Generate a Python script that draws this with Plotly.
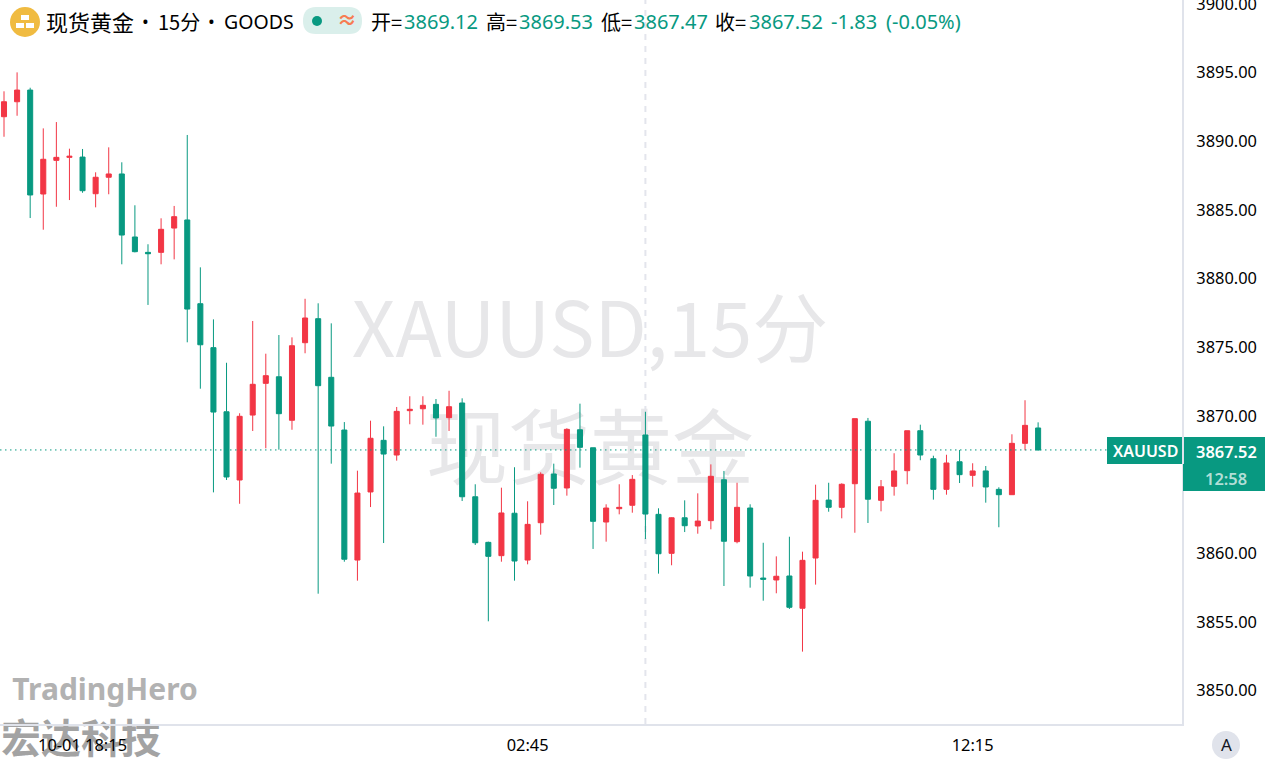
import plotly.graph_objects as go

opens = [3891.79,3892.88,3893.73,3886.16,3888.61,3888.83,3888.85,3886.18,3887.38,3887.62,
         3883.03,3881.91,3881.91,3883.68,3884.27,3878.17,3874.97,3870.30,3865.33,3870.06,
         3872.37,3872.85,3869.68,3875.33,3877.08,3872.81,3868.97,3859.50,3864.46,3868.22,
         3867.15,3870.38,3870.52,3870.84,3869.87,3870.94,3864.11,3860.79,3859.82,3862.91,
         3859.50,3862.22,3865.77,3864.75,3868.99,3867.68,3862.27,3863.24,3863.49,3868.61,
         3862.83,3859.99,3862.58,3861.98,3862.37,3865.35,3860.84,3863.29,3858.19,3858.05,
         3858.34,3855.99,3859.65,3863.87,3863.34,3865.06,3869.61,3863.85,3864.87,3866.01,
         3868.92,3866.88,3864.65,3866.66,3865.67,3865.99,3864.65,3864.26,3868.00,3869.12]
highs = [3893.64,3895.02,3893.90,3890.94,3891.40,3889.46,3889.44,3887.74,3889.56,3888.47,
         3885.34,3882.50,3884.39,3885.29,3890.46,3880.82,3877.03,3873.87,3870.19,3876.91,
         3874.53,3875.89,3875.72,3878.53,3878.20,3876.74,3869.55,3866.01,3869.65,3869.24,
         3870.65,3871.43,3871.43,3871.23,3871.83,3871.28,3865.02,3860.84,3864.77,3866.26,
         3863.78,3865.89,3866.52,3869.10,3870.89,3867.68,3863.56,3865.02,3865.69,3870.30,
         3863.27,3862.61,3863.85,3864.36,3866.47,3865.99,3865.13,3863.56,3860.76,3859.77,
         3861.20,3860.11,3864.99,3865.13,3865.09,3869.80,3869.85,3865.33,3867.28,3868.92,
         3869.36,3867.10,3867.17,3867.52,3866.55,3866.35,3864.80,3868.66,3871.14,3869.53]
lows = [3890.33,3891.86,3884.41,3883.56,3885.23,3885.72,3886.25,3885.19,3886.14,3881.04,
        3881.91,3878.08,3881.04,3881.40,3875.36,3871.98,3864.43,3865.33,3863.60,3868.90,
        3867.64,3867.54,3868.99,3874.56,3857.05,3866.52,3859.38,3858.00,3863.36,3860.74,
        3866.74,3869.39,3869.36,3868.48,3868.90,3863.80,3860.60,3855.04,3859.38,3858.00,
        3859.19,3861.35,3863.51,3864.19,3866.23,3860.31,3860.84,3862.83,3862.95,3861.03,
        3858.51,3859.12,3861.54,3861.42,3861.74,3857.61,3860.72,3857.49,3856.54,3857.08,
        3855.94,3852.83,3857.71,3863.02,3862.54,3861.49,3862.20,3863.05,3864.19,3865.02,
        3866.77,3863.90,3864.26,3865.11,3864.84,3863.68,3861.89,3864.26,3867.49,3867.47]
closes = [3892.88,3893.73,3886.09,3888.69,3888.83,3888.91,3886.40,3887.38,3887.62,3883.17,
          3881.96,3881.81,3883.59,3884.51,3877.78,3875.18,3870.28,3865.55,3869.97,3872.30,
          3872.93,3870.16,3875.11,3877.13,3872.20,3869.26,3859.56,3864.38,3868.37,3867.22,
          3870.33,3870.48,3870.77,3869.85,3870.67,3864.11,3860.76,3859.77,3862.93,3859.43,
          3862.10,3865.75,3864.73,3869.02,3867.71,3862.32,3863.29,3863.34,3865.38,3862.85,
          3859.96,3862.58,3862.00,3862.34,3865.60,3860.87,3863.34,3858.34,3858.10,3858.32,
          3856.06,3859.48,3863.85,3863.34,3865.02,3869.80,3863.93,3864.84,3865.99,3868.92,
          3867.15,3864.65,3866.57,3865.72,3865.99,3864.82,3864.26,3868.00,3869.31,3867.52]

price_ticks = [3850, 3855, 3860, 3865, 3870, 3875, 3880, 3885, 3890, 3895, 3900]
time_tick_index = [6, 40, 74]
time_tick_text = ["10-01 18:15", "02:45", "12:15"]
cursor_index = 49

UP = "#F23645"
DOWN = "#089981"
AXIS = "#E0E3EB"
W, H = 1265, 761
PW, PH = 1182, 724
LAT = "Noto Sans, Noto Sans CJK SC, sans-serif"
CJK = "Noto Sans CJK SC, Noto Sans, sans-serif"


def px(x):
    return x / PW


def py(y):
    return 1 - y / PH


fig = go.Figure(go.Candlestick(
    x=list(range(len(opens))), open=opens, high=highs, low=lows, close=closes,
    increasing=dict(line=dict(color=UP, width=1), fillcolor=UP),
    decreasing=dict(line=dict(color=DOWN, width=1), fillcolor=DOWN),
    whiskerwidth=0, hoverinfo="skip", showlegend=False,
))

shapes = []
annots = []


def rect(x0, y0, x1, y1, color, kind="rect", layer="above"):
    shapes.append(dict(type=kind, xref="paper", yref="paper", x0=px(x0), x1=px(x1), y0=py(y1), y1=py(y0),
                       fillcolor=color, line=dict(width=0), layer=layer))


def text(x, y, t, size, color="#000000", anchor="left", font=LAT, weight=None):
    f = dict(size=size, color=color, family=font)
    if weight:
        f["weight"] = weight
    annots.append(dict(xref="paper", yref="paper", x=px(x), y=py(y), text=t, showarrow=False,
                       xanchor=anchor, yanchor="middle", font=f, borderpad=0))


def watermark(x0, y0, x1, y1, t, size, color, font, weight=None):
    f = dict(size=size, color=color, family=font)
    if weight:
        f["weight"] = weight
    shapes.append(dict(type="rect", xref="paper", yref="paper", x0=px(x0), x1=px(x1), y0=py(y1), y1=py(y0),
                       line=dict(width=0), fillcolor="rgba(0,0,0,0)", layer="below",
                       label=dict(text=t, font=f, textposition="middle center")))


# watermarks (below the candles)
watermark(300, 296, 880, 376, "XAUUSD,15分", 76, "#E7E7E9", CJK)
watermark(380, 410, 800, 500, "现货黄金", 82, "#E7E7E9", CJK)
watermark(0, 670, 210, 710, "TradingHero", 30, "#B2B2B2", LAT, 700)
watermark(0, 722, 162, 761, "宏达科技", 40, "#A3A3A3", CJK, 700)

# crosshair and last price line
shapes.append(dict(type="line", xref="x", yref="paper", x0=cursor_index, x1=cursor_index, y0=0, y1=1,
                   line=dict(color="#E3E5EC", width=2, dash="6px,6px"), layer="below"))
shapes.append(dict(type="line", xref="paper", yref="y", x0=0, x1=px(1107), y0=closes[-1], y1=closes[-1],
                   line=dict(color=DOWN, width=1, dash="1.5px,3.5px"), layer="above"))

# price tags
rect(1107, 437, 1182, 464, DOWN)
rect(1184, 437, 1265, 464, DOWN)
rect(1183, 464, 1265, 491, DOWN)
text(1145, 451, "XAUUSD", 16, "#FFFFFF", "center", weight=600)
text(1226, 451, f"{closes[-1]:.2f}", 16.4, "#FFFFFF", "center", weight=600)
text(1226, 478, "12:58", 16.4, "rgba(255,255,255,0.7)", "center", weight=600)

# auto-scale button
rect(1212, 731, 1240, 759, AXIS, "circle")
text(1226, 745, "A", 17, "#131722", "center")

# header icon
rect(10, 7, 40, 37, "#F0BB41", "circle")
rect(21, 15, 29, 20, "#FFFFFF")
rect(16, 23, 24, 28, "#FFFFFF")
rect(26, 23, 34, 28, "#FFFFFF")

# header text
text(45, 21, "现货黄金", 22, font=CJK)
text(141, 21, "•", 18)
text(157, 21, "15分", 20, font=CJK)
text(207, 21, "•", 18)
text(223, 21, "GOODS", 19.5)

# status pill
shapes.append(dict(type="path", xref="paper", yref="paper",
                   path=" ".join([
                       f"M {px(316)} {py(7)}", f"L {px(349)} {py(7)}",
                       f"Q {px(362)} {py(7)} {px(362)} {py(21)}",
                       f"Q {px(362)} {py(34)} {px(349)} {py(34)}",
                       f"L {px(316)} {py(34)}",
                       f"Q {px(303)} {py(34)} {px(303)} {py(21)}",
                       f"Q {px(303)} {py(7)} {px(316)} {py(7)} Z"]),
                   fillcolor="#DAEFEB", line=dict(width=0), layer="above"))
rect(312, 16, 322, 26, DOWN, "circle")
text(347, 20, "≈", 20, "#F77C52", "center", weight=700)

# OHLC read-out
text(370, 21, "开=", 20, font=CJK)
text(403, 21, f"{opens[-1]:.2f}", 20, DOWN)
text(485, 21, "高=", 20, font=CJK)
text(518, 21, f"{highs[-1]:.2f}", 20, DOWN)
text(600, 21, "低=", 20, font=CJK)
text(633, 21, f"{lows[-1]:.2f}", 20, DOWN)
text(714, 21, "收=", 20, font=CJK)
text(748, 21, f"{closes[-1]:.2f}", 20, DOWN)
text(830, 21, "-1.83", 20, DOWN)
text(885, 21, "(-0.05%)", 20, DOWN)

step = 13.09
fig.update_layout(
    width=W, height=H, autosize=False,
    margin=dict(l=0, r=W - PW, t=0, b=H - PH, pad=0),
    paper_bgcolor="#FFFFFF", plot_bgcolor="#FFFFFF",
    boxgap=0.45, showlegend=False, hovermode=False,
    shapes=shapes, annotations=annots,
    xaxis=dict(range=[-4 / step, (PW - 4) / step], tickmode="array", tickvals=time_tick_index,
               ticktext=time_tick_text, showgrid=False, zeroline=False, automargin=False,
               showline=True, linecolor=AXIS, linewidth=2, ticks="", ticklabelstandoff=5,
               tickfont=dict(size=16.4, color="#000000", family=LAT), rangeslider=dict(visible=False)),
    yaxis=dict(side="right", range=[3847.56, 3900.29], tickmode="array", tickvals=price_ticks,
               ticktext=[f"{p:.2f}" for p in price_ticks], showgrid=False, automargin=False,
               zeroline=False, showline=True, linecolor=AXIS, linewidth=2, ticks="", ticklabelstandoff=9,
               ticklabeloverflow="allow",
               tickfont=dict(size=16.4, color="#000000", family=LAT)),
)

fig.write_html("out.html", config=dict(displayModeBar=False),
               post_script="document.body.style.margin='0';")
